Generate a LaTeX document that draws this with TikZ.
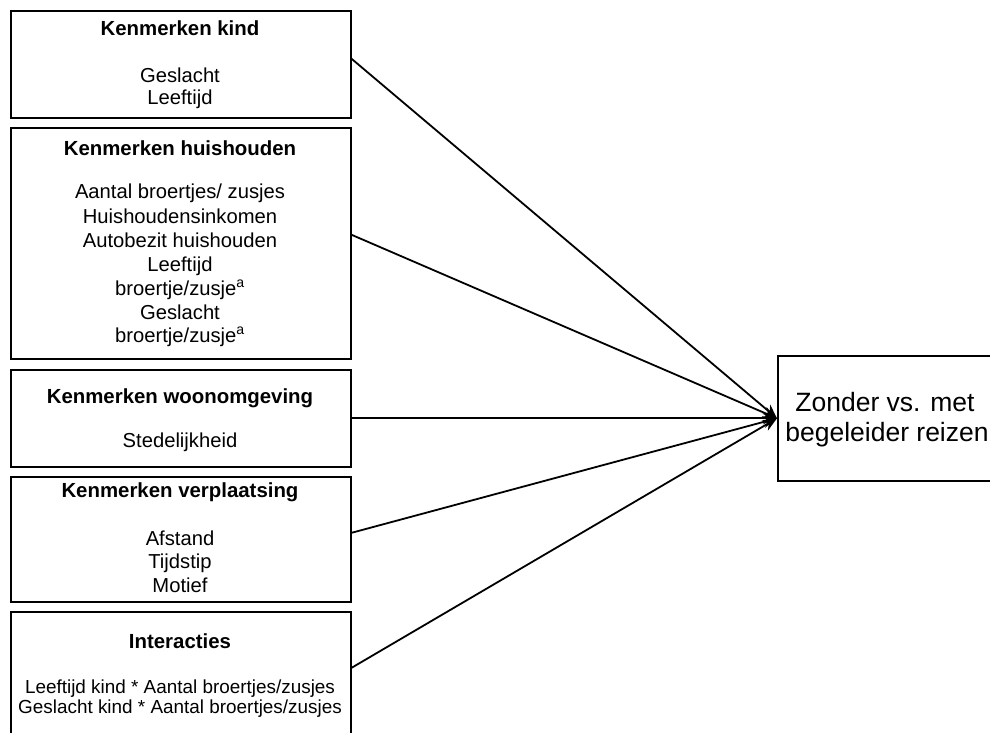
\documentclass[tikz,border=0pt]{standalone}
\usepackage{fontspec}
\setmainfont{Liberation Sans}
\usetikzlibrary{arrows.meta,calc}
\begin{document}
\begin{tikzpicture}[x=1pt,y=-1pt,
  box/.style={draw,line width=1.6pt,inner sep=0pt,anchor=north west},
  ttl/.style={anchor=base,inner sep=0pt,font=\fontsize{20.4}{22}\selectfont\bfseries},
  txt/.style={anchor=base,inner sep=0pt,font=\fontsize{20.2}{22}\selectfont},
  smalltxt/.style={anchor=base,inner sep=0pt,font=\fontsize{18.9}{20}\selectfont},
  bigtxt/.style={anchor=base,inner sep=0pt,font=\fontsize{26.5}{30}\selectfont},
  conn/.style={line width=1.8pt,-{Stealth[length=14pt,width=12pt]}}]
\useasboundingbox (0,0) rectangle (990,733);
\clip (0,0) rectangle (990,733);
% boxes
\node[box,minimum width=340pt,minimum height=107pt] (b1) at (10,10) {};
\node[box,minimum width=340pt,minimum height=231pt] (b2) at (10,127) {};
\node[box,minimum width=340pt,minimum height=97pt] (b3) at (10,369) {};
\node[box,minimum width=340pt,minimum height=125pt] (b4) at (10,476) {};
\node[box,minimum width=340pt,minimum height=134pt] (b5) at (10,611) {};
\node[box,minimum width=240pt,minimum height=125pt] (tgt) at (777,355) {};
% box 1
\node[ttl] (t1) at (180,36) {Kenmerken kind};
\node[txt] (t1a) at (180,82.7) {Geslacht};
\node[txt] (t1b) at (180,105) {Leeftijd};
% box 2
\node[ttl] (t2) at (180,155) {Kenmerken huishouden};
\node[txt] (t2a) at (180,198) {Aantal broertjes/ zusjes};
\node[txt] (t2b) at (180,223) {Huishoudensinkomen};
\node[txt] (t2c) at (180,247) {Autobezit huishouden};
\node[txt] (t2d) at (180,271.5) {Leeftijd};
\node[txt] (t2e) at (180,295) {broertje/zusje\textsuperscript{a}};
\node[txt] (t2f) at (180,319) {Geslacht};
\node[txt] (t2g) at (180,342.5) {broertje/zusje\textsuperscript{a}};
% box 3
\node[ttl] (t3) at (180,403) {Kenmerken woonomgeving};
\node[txt] (t3a) at (180,447) {Stedelijkheid};
% box 4
\node[ttl] (t4) at (180,497) {Kenmerken verplaatsing};
\node[txt] (t4a) at (180,545) {Afstand};
\node[txt] (t4b) at (180,568.5) {Tijdstip};
\node[txt] (t4c) at (180,592) {Motief};
% box 5
\node[ttl] (t5) at (180,648) {Interacties};
\node[smalltxt] (t5a) at (180,693) {Leeftijd kind * Aantal broertjes/zusjes};
\node[smalltxt] (t5b) at (180,713) {Geslacht kind * Aantal broertjes/zusjes};
% target text
\node[bigtxt] (z1) at (885,411.7) {Zonder vs. met};
\node[bigtxt] (z2) at (887,441.7) {begeleider reizen};
% connectors
\draw[conn] ([yshift=5.5pt]b1.east) -- (tgt.west);
\draw[conn] ([yshift=8.5pt]b2.east) -- (tgt.west);
\draw[conn] (b3.east) -- (tgt.west);
\draw[conn] ([yshift=6.5pt]b4.east) -- (tgt.west);
\draw[conn] ([yshift=11pt]b5.east) -- (tgt.west);
\end{tikzpicture}
\end{document}
